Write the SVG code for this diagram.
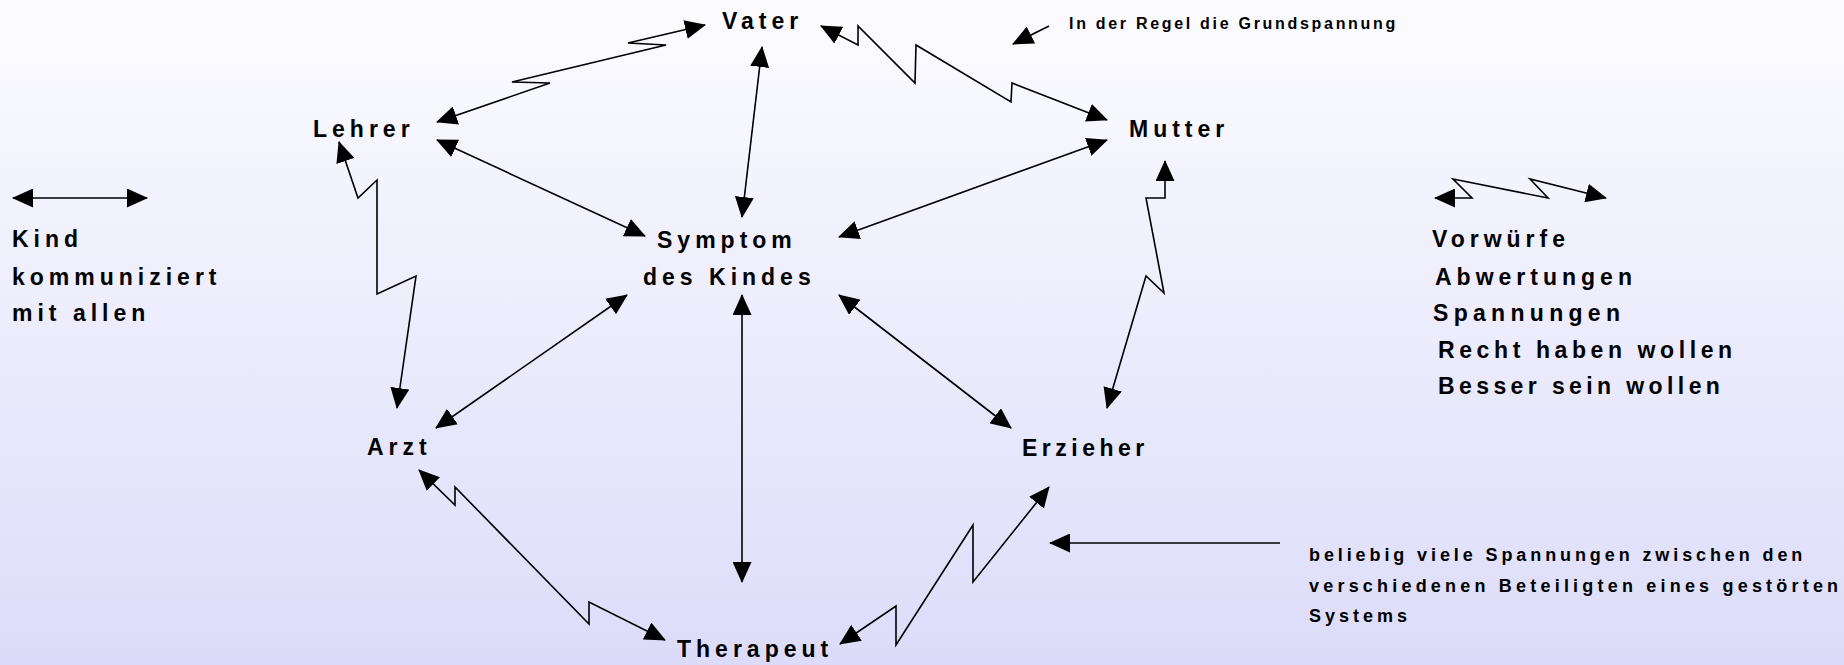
<svg xmlns="http://www.w3.org/2000/svg" width="1844" height="665" viewBox="0 0 1844 665">
<defs>
<linearGradient id="bg" x1="0" y1="0" x2="0" y2="1">
<stop offset="0" stop-color="#fcfcff"/>
<stop offset="1" stop-color="#dcdcfa"/>
</linearGradient>
<marker id="ah" viewBox="0 0 21 19" refX="20" refY="9.5" markerWidth="21" markerHeight="19" markerUnits="userSpaceOnUse" orient="auto-start-reverse">
<path d="M0,0 L21,9.5 L0,19 Z" fill="#000"/>
</marker>
<style>
.lbl{font-family:"Liberation Sans",Arial,sans-serif;font-weight:bold;font-size:23px;letter-spacing:5px;fill:#000}
.note{font-family:"Liberation Sans",Arial,sans-serif;font-weight:bold;font-size:18px;letter-spacing:4px;fill:#000}
.small{font-family:"Liberation Sans",Arial,sans-serif;font-weight:bold;font-size:16px;letter-spacing:2.7px;fill:#000}
.c{fill:none;stroke:#000;stroke-width:1.6;stroke-linejoin:miter}
.b{marker-start:url(#ah);marker-end:url(#ah)}
.e{marker-end:url(#ah)}
</style>
</defs>
<rect x="0" y="0" width="1844" height="665" fill="url(#bg)"/>

<g id="connectors">
<path class="c b" d="M13,198 L147,198"/>
<path class="c b" d="M437,122 L550,83 L512,82 L666,45 L628,43 L705,25"/>
<path class="c b" d="M762,47 L742,217"/>
<path class="c b" d="M821,26 L858,45 L858,26 L915,83 L916,45 L1011,102 L1012,83 L1107,120"/>
<path class="c e" d="M1049,26 L1013,44"/>
<path class="c b" d="M437,140 L645,236"/>
<path class="c b" d="M1107,140 L839,237"/>
<path class="c b" d="M339,142 L358,198 L377,180 L377,294 L416,276 L397,408"/>
<path class="c b" d="M436,428 L627,295"/>
<path class="c b" d="M742,295 L742,582"/>
<path class="c b" d="M839,295 L1011,428"/>
<path class="c b" d="M1165,161 L1165,198 L1146,198 L1164,293 L1146,276 L1107,408"/>
<path class="c b" d="M419,470 L455,505 L455,487 L589,624 L589,602 L665,640"/>
<path class="c b" d="M840,644 L896,606 L896,645 L973,525 L973,582 L1049,487"/>
<path class="c e" d="M1280,543 L1050,543"/>
<path class="c b" d="M1435,198 L1472,198 L1453,179 L1548,198 L1530,179 L1606,198"/>
</g>

<g id="vater"><text class="lbl" x="722" y="29">Vater</text></g>
<g id="note-grundspannung"><text class="small" x="1069" y="29">In der Regel die Grundspannung</text></g>
<g id="lehrer"><text class="lbl" x="313" y="137">Lehrer</text></g>
<g id="mutter"><text class="lbl" x="1129" y="137">Mutter</text></g>
<g id="legend-kind">
<text class="lbl" x="12" y="247">Kind</text>
<text class="lbl" x="12" y="285">kommuniziert</text>
<text class="lbl" x="12" y="321">mit allen</text>
</g>
<g id="symptom">
<text class="lbl" x="657" y="248">Symptom</text>
<text class="lbl" x="643" y="285">des Kindes</text>
</g>
<g id="legend-spannung">
<text class="lbl" x="1432" y="247">Vorwürfe</text>
<text class="lbl" x="1435" y="285">Abwertungen</text>
<text class="lbl" x="1433" y="321" style="letter-spacing:5.3px">Spannungen</text>
<text class="lbl" x="1438" y="358" style="letter-spacing:4.6px">Recht haben wollen</text>
<text class="lbl" x="1438" y="394" style="letter-spacing:4.4px">Besser sein wollen</text>
</g>
<g id="arzt"><text class="lbl" x="367" y="455">Arzt</text></g>
<g id="erzieher"><text class="lbl" x="1022" y="456" style="letter-spacing:4.5px">Erzieher</text></g>
<g id="therapeut"><text class="lbl" x="677" y="657">Therapeut</text></g>
<g id="note-system">
<text class="note" x="1309" y="561" style="letter-spacing:3.9px">beliebig viele Spannungen zwischen den</text>
<text class="note" x="1309" y="592" style="letter-spacing:4.2px">verschiedenen Beteiligten eines gestörten</text>
<text class="note" x="1309" y="622">Systems</text>
</g>
</svg>
